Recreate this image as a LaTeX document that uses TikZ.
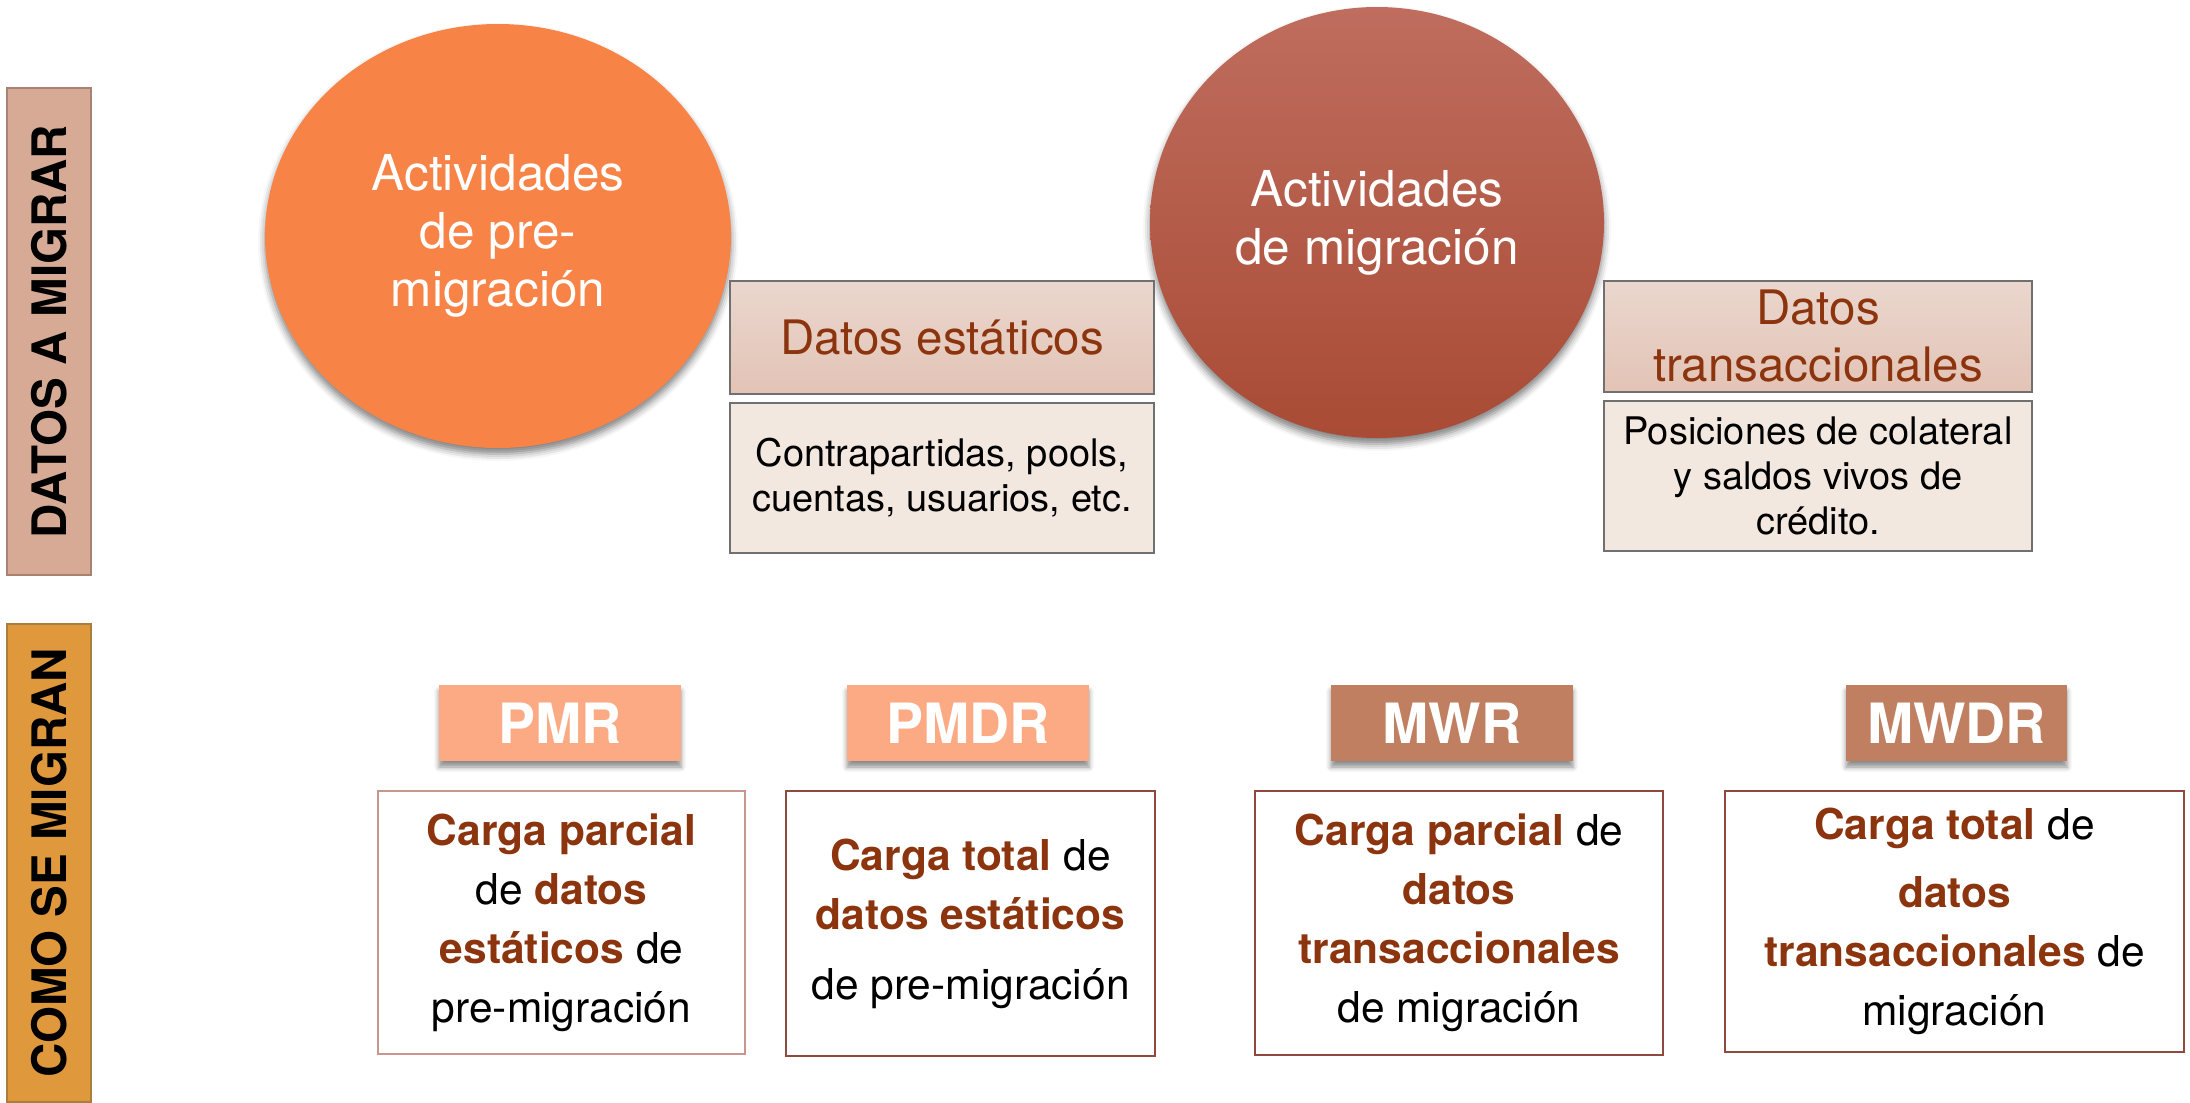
\documentclass[tikz,border=0pt]{standalone}
\usepackage{fontspec}
\setmainfont{TeX Gyre Heros}
\usetikzlibrary{shapes.geometric,shadows.blur}

\definecolor{darkbrown}{RGB}{140,52,14}
\definecolor{sidefillA}{RGB}{214,170,148}
\definecolor{sidedrawA}{RGB}{168,130,112}
\definecolor{sidefillB}{RGB}{224,152,61}
\definecolor{sidedrawB}{RGB}{169,125,58}
\definecolor{preorange}{RGB}{248,131,71}
\definecolor{migtop}{RGB}{191,109,94}
\definecolor{migbot}{RGB}{169,75,53}
\definecolor{headtop}{RGB}{234,215,206}
\definecolor{headbot}{RGB}{227,195,182}
\definecolor{descfill}{RGB}{243,232,224}
\definecolor{boxgray}{RGB}{112,112,112}
\definecolor{tagpre}{RGB}{251,170,132}
\definecolor{tagmig}{RGB}{192,127,96}
\definecolor{lineA}{RGB}{200,150,140}
\definecolor{lineB}{RGB}{142,74,60}

\newcommand{\bcol}[1]{\textcolor{darkbrown}{\bfseries #1}}

\tikzset{
  sidebar/.style={rectangle, fill=sidefill#1, draw=sidedraw#1, line width=2pt,
    rotate=90, minimum height=84pt, inner sep=0pt,
    font=\fontsize{47.5}{50}\selectfont\bfseries},
  actividad/.style={ellipse, inner sep=0pt, text=white, align=center,
    font=\fontsize{49.5}{58}\selectfont,
    blur shadow={shadow xshift=0pt, shadow yshift=-6pt, shadow blur radius=7pt, shadow opacity=50}},
  datoshead/.style={rectangle, draw=boxgray, line width=1.5pt, top color=headtop,
    bottom color=headbot, text=darkbrown, align=center, inner sep=0pt,
    font=\fontsize{47.5}{57}\selectfont},
  datosdesc/.style={rectangle, draw=boxgray, line width=1.5pt, fill=descfill,
    align=center, inner sep=0pt, font=\fontsize{38}{45}\selectfont},
  tag/.style={rectangle, fill=#1, text=white, minimum height=76pt, inner sep=0pt,
    font=\fontsize{55.5}{60}\selectfont\bfseries,
    blur shadow={shadow xshift=0pt, shadow yshift=-6pt, shadow blur radius=5pt, shadow opacity=45}},
  carga/.style={rectangle, draw=#1, line width=2pt, fill=white, align=center,
    inner sep=0pt, font=\fontsize{42.5}{59}\selectfont}
}

\begin{document}
\begin{tikzpicture}[x=1pt, y=-1pt]
    \useasboundingbox (0,0) rectangle (2190,1103);

    % Side bars
    \node[sidebar=A, minimum width=487pt] (datosmigrar) at (49, 331.5) {DATOS A MIGRAR};
    \node[sidebar=B, minimum width=478pt] (comosemigran) at (49, 863) {COMO SE MIGRAN};

    % Draw activities
    \node[actividad, fill=preorange, minimum width=466pt, minimum height=424pt] (premig) at (498, 236)
        {Actividades\\de pre-\\migración};
    \node[actividad, top color=migtop, bottom color=migbot, minimum width=454pt, minimum height=431pt] (mig) at (1377, 222.5)
        {Actividades\\de migración};

    % Data to migrate
    \node[datoshead, minimum width=424pt, minimum height=113pt] (estaticos) at (942, 337.5) {Datos estáticos};
    \node[datosdesc, minimum width=424pt, minimum height=150pt] (estdesc) at (942, 478)
        {Contrapartidas, pools,\\cuentas, usuarios, etc.};
    \node[datoshead, minimum width=428pt, minimum height=111pt] (transacc) at (1818, 336.5) {Datos\\transaccionales};
    \node[datosdesc, minimum width=428pt, minimum height=150pt] (transdesc) at (1818, 476)
        {Posiciones de colateral\\y saldos vivos de\\crédito.};

    % Load types
    \node[tag=tagpre, minimum width=242pt] (pmr) at (560, 723) {PMR};
    \node[tag=tagpre, minimum width=242pt] (pmdr) at (968, 723) {PMDR};
    \node[tag=tagmig, minimum width=242pt] (mwr) at (1452, 723) {MWR};
    \node[tag=tagmig, minimum width=221pt] (mwdr) at (1956.5, 723) {MWDR};

    % Load descriptions
    \node[carga=lineA, minimum width=367pt, minimum height=263pt] (pmrtxt) at (561.5, 922.5)
        {\bcol{Carga parcial}\\de \bcol{datos}\\\bcol{estáticos} de\\pre-migración};
    \node[carga=lineB, minimum width=369pt, minimum height=265pt] (pmdrtxt) at (970.5, 923.5)
        {\bcol{Carga total} de\\\bcol{datos estáticos}\\[11pt]de pre-migración};
    \node[carga=lineB, minimum width=408pt, minimum height=264pt] (mwrtxt) at (1459, 923)
        {\bcol{Carga parcial} de\\\bcol{datos}\\\bcol{transaccionales}\\de migración};
    \node[carga=lineB, minimum width=459pt, minimum height=261pt] (mwdrtxt) at (1954.5, 921.5)
        {\bcol{Carga total} de\\[9pt]\bcol{datos}\\\bcol{transaccionales} de\\migración};
\end{tikzpicture}
\end{document}
